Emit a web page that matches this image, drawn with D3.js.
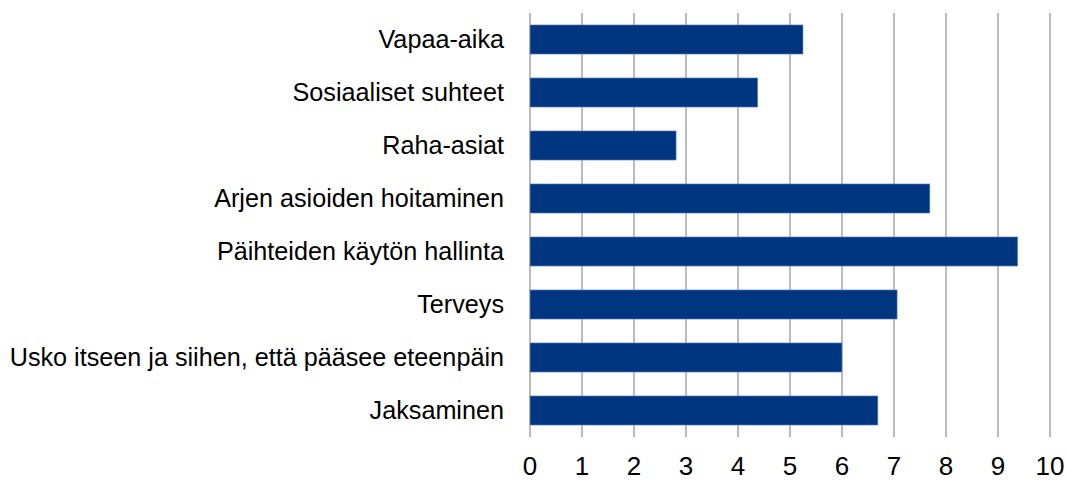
<!DOCTYPE html>
<html>
<head>
<meta charset="utf-8">
<script src="https://cdn.jsdelivr.net/npm/d3@7"></script>
<style>
  body { margin: 0; background: #fff; }
  text { font-family: "Liberation Sans", Arial, sans-serif; fill: #000; }
</style>
</head>
<body>
<svg width="1066" height="481"></svg>
<script>
// data
var categories = ["Vapaa-aika", "Sosiaaliset suhteet", "Raha-asiat", "Arjen asioiden hoitaminen",
	"Päihteiden käytön hallinta", "Terveys", "Usko itseen ja siihen, että pääsee eteenpäin", "Jaksaminen"];
var values = [5.25, 4.38, 2.81, 7.69, 9.38, 7.06, 6.0, 6.69];
var tickValues = [0, 1, 2, 3, 4, 5, 6, 7, 8, 9, 10];

var svg = d3.select("svg"),
	plotLeft = 530, plotRight = 1050, plotTop = 13, plotBottom = 437;

var x = d3.scaleLinear().domain([0, 10]).range([plotLeft, plotRight]);
var y = d3.scaleBand().domain(categories).range([plotTop, plotBottom])
	.paddingInner(0.45).paddingOuter(0.225);

// grid lines
svg.append("g")
	.selectAll("line")
	.data(tickValues)
	.enter().append("line")
	.attr("x1", function (d) { return x(d); })
	.attr("x2", function (d) { return x(d); })
	.attr("y1", plotTop)
	.attr("y2", plotBottom)
	.style("stroke", "#a6a6a6")
	.style("stroke-width", 1.5);

// bars
svg.append("g")
	.selectAll("rect")
	.data(values)
	.enter().append("rect")
	.attr("x", x(0))
	.attr("y", function (d, i) { return y(categories[i]); })
	.attr("width", function (d) { return x(d) - x(0); })
	.attr("height", y.bandwidth())
	.style("fill", "#003580")
	.style("stroke", "#7f9acb")
	.style("stroke-width", 0.6);

// category labels
svg.append("g")
	.selectAll("text")
	.data(categories)
	.enter().append("text")
	.attr("x", 504)
	.attr("y", function (d) { return y(d) + y.bandwidth() / 2; })
	.attr("dy", "0.35em")
	.attr("text-anchor", "end")
	.style("font-size", "25.2px")
	.text(function (d) { return d; });

// x tick labels
svg.append("g")
	.selectAll("text")
	.data(tickValues)
	.enter().append("text")
	.attr("x", function (d) { return x(d); })
	.attr("y", 466)
	.attr("dy", "0.35em")
	.attr("text-anchor", "middle")
	.style("font-size", "26px")
	.text(function (d) { return d; });
</script>
</body>
</html>
